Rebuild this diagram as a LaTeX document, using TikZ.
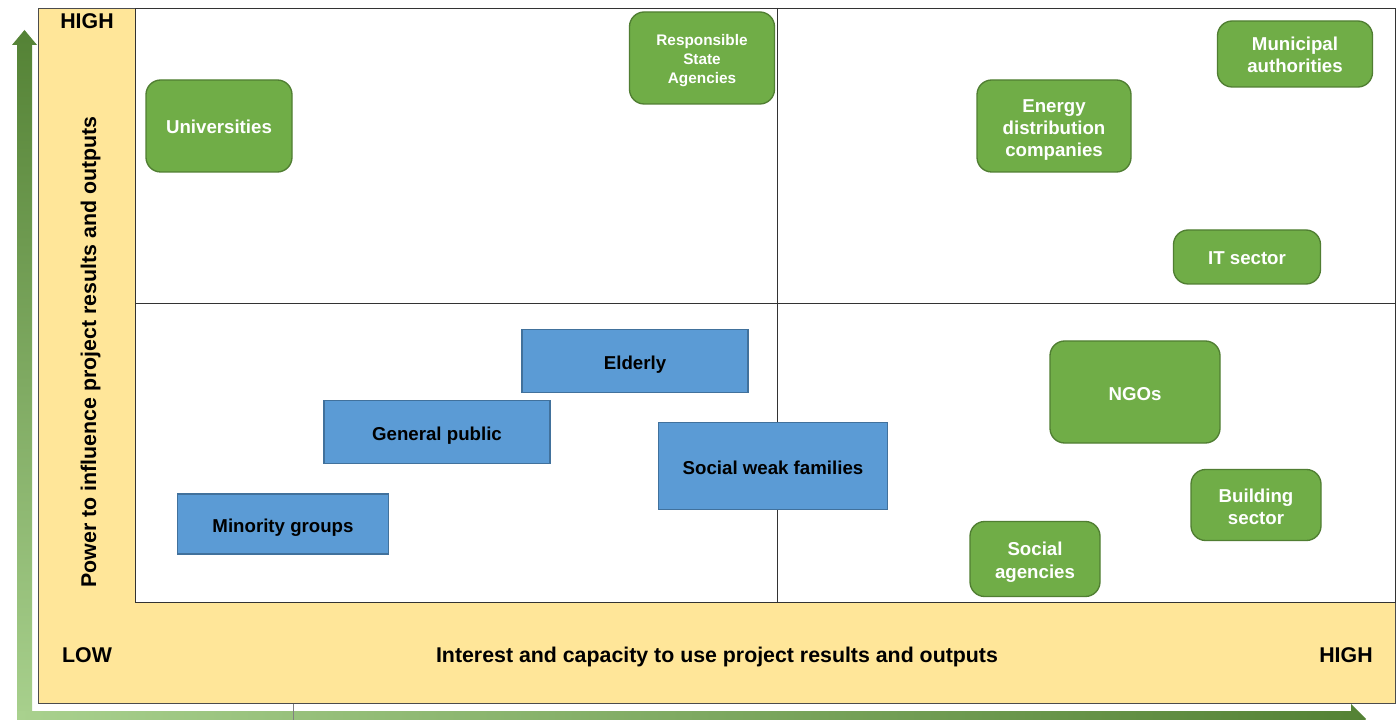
\documentclass[tikz,border=0pt]{standalone}
\usepackage{fontspec}
\setmainfont{Liberation Sans}
\definecolor{darkgreen}{HTML}{548235}
\definecolor{lightgreen}{HTML}{A9D18E}
\definecolor{panelyellow}{HTML}{FFE699}
\definecolor{boxgreen}{HTML}{70AD47}
\definecolor{boxgreenline}{HTML}{507E32}
\definecolor{boxblue}{HTML}{5B9BD5}
\definecolor{boxblueline}{HTML}{41719C}
\tikzset{
  greenbox/.style={draw=boxgreenline, fill=boxgreen, line width=1pt, rounded corners=11pt,
    inner sep=0pt, align=center, text=white, text depth=0pt, font=\fontsize{14}{16.5}\selectfont\bfseries},
  bluebox/.style={draw=boxblueline, fill=boxblue, line width=1pt,
    inner sep=0pt, align=center, text=black, text depth=0pt, font=\fontsize{14}{16.5}\selectfont\bfseries},
  oneline/.style={text height=12pt},
  axistext/.style={inner sep=0pt, text height=12pt, text depth=0pt, font=\fontsize{16}{19}\selectfont\bfseries}
}
\begin{document}
\begin{tikzpicture}[x=0.75pt, y=-0.75pt]

    \clip (0,0) rectangle (1400,720);
    \fill[white] (0,0) rectangle (1400,720);

    % arrows
    \shade[top color=darkgreen, bottom color=lightgreen]
      (17,726) -- (17,45) -- (12,45) -- (24.5,30) -- (37,45) -- (32,45) -- (32,726) -- cycle;
    \shade[left color=lightgreen, right color=darkgreen]
      (17,711) -- (1351,711) -- (1351,704) -- (1366,719) -- (1351,734) -- (1351,727) -- (17,727) -- cycle;
    \draw[gray] (293,703) -- (293,720);

    % panels
    \filldraw[fill=panelyellow, draw=black!70] (38,8) coordinate(outerNW) rectangle (1395,703) coordinate(outerSE);
    \filldraw[fill=white, draw=black!80] (135,8) coordinate(innerNW) rectangle (1395,602) coordinate(innerSE);
    \draw[black!80] (777,8) coordinate(midN) -- (777,602) coordinate(midS);
    \draw[black!80] (135,303) coordinate(midW) -- (1395,303) coordinate(midE);

    % axis labels
    \node[axistext] (highY) at (87,21) {HIGH};
    \node[axistext, rotate=90] (powerLabel) at (88,352) {Power to influence project results and outputs};
    \node[axistext] (lowX) at (87,654) {LOW};
    \node[axistext] (interestLabel) at (717,654) {Interest and capacity to use project results and outputs};
    \node[axistext] (highX) at (1346,654) {HIGH};

    % stakeholders
    \node[greenbox, oneline, minimum width=109.5pt, minimum height=69pt] (universities) at (219,126) {Universities};
    \node[greenbox, minimum width=108.75pt, minimum height=69pt, text height=37.7pt, font=\fontsize{11.5}{14}\selectfont\bfseries] (stateAgencies) at (702,58) {Responsible\\State\\Agencies};
    \node[greenbox, minimum width=115.5pt, minimum height=69pt, text height=46pt] (energy) at (1054,126) {Energy\\distribution\\companies};
    \node[greenbox, minimum width=116.25pt, minimum height=49.5pt, text height=28.5pt, font=\fontsize{14}{17}\selectfont\bfseries] (municipal) at (1295,54) {Municipal\\authorities};
    \node[greenbox, oneline, minimum width=110.25pt, minimum height=40.5pt] (itSector) at (1247,257) {IT sector};
    \node[greenbox, oneline, minimum width=127.5pt, minimum height=76.5pt] (ngos) at (1135,392) {NGOs};
    \node[greenbox, minimum width=97.5pt, minimum height=53.25pt, text height=29.5pt] (building) at (1256,505) {Building\\sector};
    \node[greenbox, minimum width=97.5pt, minimum height=56.25pt, text height=29pt, font=\fontsize{14}{17.5}\selectfont\bfseries] (socialAgencies) at (1035,559) {Social\\agencies};

    \node[bluebox, oneline, minimum width=169.5pt, minimum height=47.25pt] (elderly) at (635,361) {Elderly};
    \node[bluebox, oneline, minimum width=169.5pt, minimum height=47.25pt] (public) at (437,432) {General public};
    \node[bluebox, oneline, minimum width=171.75pt, minimum height=65.25pt] (weakFamilies) at (773,466) {Social weak families};
    \node[bluebox, oneline, minimum width=158.25pt, minimum height=45pt] (minority) at (283,524) {Minority groups};

\end{tikzpicture}
\end{document}
